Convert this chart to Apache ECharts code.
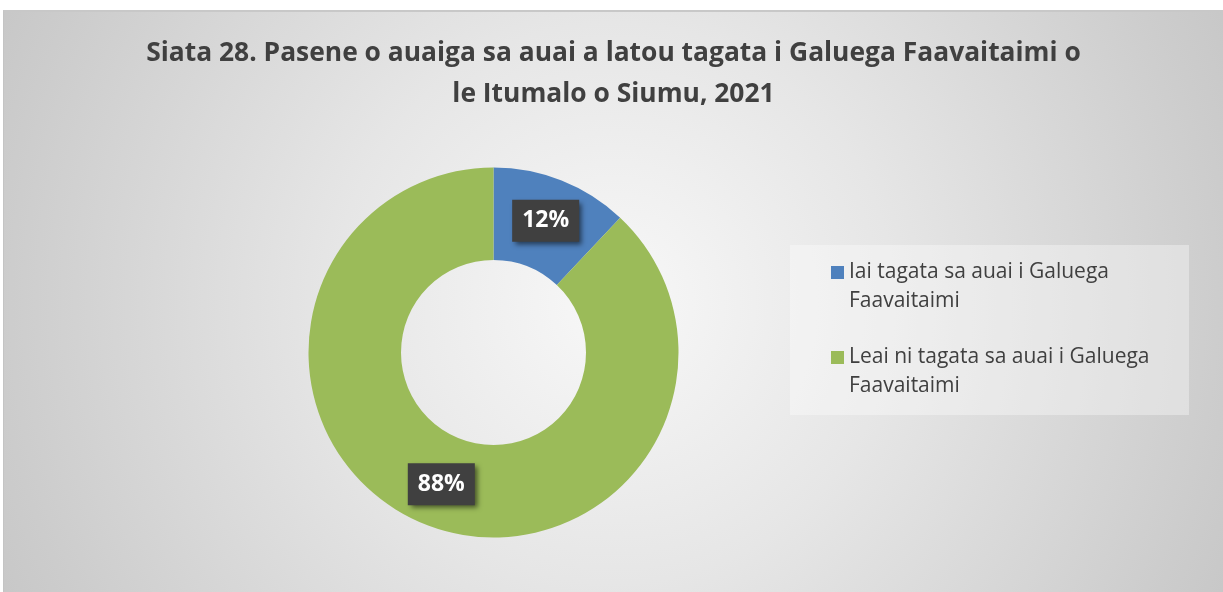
<!DOCTYPE html>
<html>
<head>
<meta charset="utf-8">
<script src="https://cdn.jsdelivr.net/npm/echarts@6/dist/echarts.min.js"></script>
<style>
  html, body { margin: 0; padding: 0; background: #ffffff; }
  #main {
    position: absolute; left: 3px; top: 10px;
    width: 1220px; height: 582px;
    box-sizing: border-box;
    border-left: 1px solid #c4c4c4; border-top: 2px solid #c8c8c8;
  }
</style>
</head>
<body>
<div id="main"></div>
<script>
var titleLines = [
  'Siata 28. Pasene o auaiga sa auai a latou tagata i Galuega Faavaitaimi o',
  'le Itumalo o Siumu, 2021'
];
var categories = [
  'Iai tagata sa auai i Galuega Faavaitaimi',
  'Leai ni tagata sa auai i Galuega Faavaitaimi'
];
var legendLines = [
  ['Iai tagata sa auai i Galuega', 'Faavaitaimi'],
  ['Leai ni tagata sa auai i Galuega', 'Faavaitaimi']
];
var shares = [12, 88];
var colors = ['#4f81bd', '#9bbb59'];

var chart = echarts.init(document.getElementById('main'));

var pieData = categories.map(function (name, i) {
  return { name: name, value: shares[i], itemStyle: { color: colors[i] } };
});

chart.setOption({
  backgroundColor: {
    type: 'radial', x: 610, y: 291, r: 700, global: true,
    colorStops: [
      { offset: 0, color: '#f8f8f8' },
      { offset: 0.4, color: '#e6e6e6' },
      { offset: 0.88, color: '#cccccc' },
      { offset: 1, color: '#c6c6c6' }
    ]
  },
  title: {
    text: titleLines.join('\n'),
    left: 'center',
    top: 21,
    padding: 0,
    textStyle: {
      fontFamily: 'Open Sans',
      fontWeight: 'bold',
      fontSize: 26.4,
      lineHeight: 41,
      color: '#404040'
    }
  },
  graphic: [{
    type: 'rect',
    left: 786, top: 233,
    shape: { width: 399, height: 170 },
    style: { fill: 'rgba(255,255,255,0.35)' },
    z: -1
  }],
  legend: {
    orient: 'vertical',
    left: 827,
    top: 217,
    padding: 0,
    itemWidth: 13,
    itemHeight: 13,
    itemGap: -2,
    icon: 'rect',
    formatter: function (name) {
      // leading empty line keeps the marker level with the first text line
      return '\n' + legendLines[categories.indexOf(name)].join('\n');
    },
    textStyle: {
      fontFamily: 'Open Sans',
      fontSize: 21,
      lineHeight: 29,
      color: '#404040'
    }
  },
  series: [{
    type: 'pie',
    center: [489.5, 340.5],
    radius: [92.5, 185],
    startAngle: 90,
    clockwise: true,
    silent: true,
    data: pieData,
    label: {
      show: true,
      position: 'inside',
      formatter: '{d}%',
      fontFamily: 'Open Sans',
      fontWeight: 'bold',
      fontSize: 23,
      lineHeight: 27,
      color: '#ffffff',
      backgroundColor: '#404040',
      padding: [8, 10, 7, 10],
      shadowColor: 'rgba(0,0,0,0.55)',
      shadowBlur: 5,
      shadowOffsetX: 3,
      shadowOffsetY: 3
    },
    labelLine: { show: false }
  }]
});
</script>
</body>
</html>
